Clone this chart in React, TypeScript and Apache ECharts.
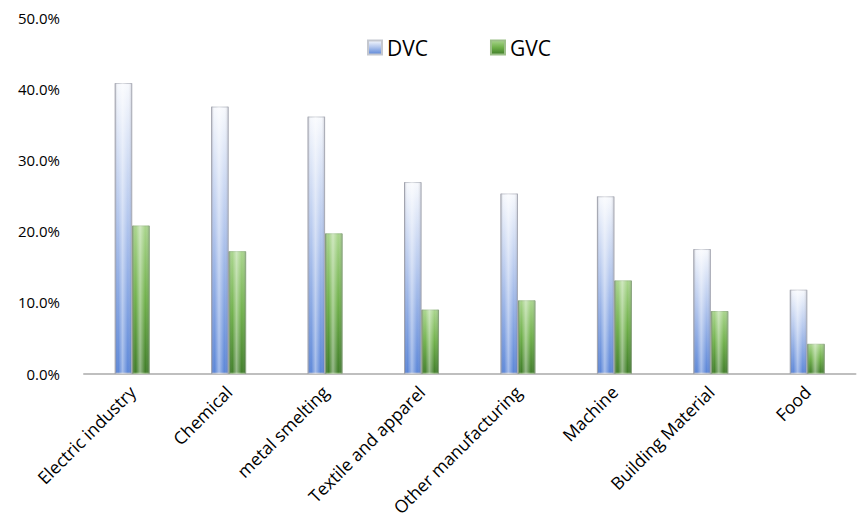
import React, { useEffect, useRef } from "react";
import * as echarts from "echarts";

// Share of value-chain participation by industry
const categories = [
  "Electric industry",
  "Chemical",
  "metal smelting",
  "Textile and apparel",
  "Other manufacturing",
  "Machine",
  "Building Material",
  "Food",
];
const dvcValues = [40.8, 37.5, 36.1, 26.9, 25.3, 24.9, 17.5, 11.8];
const gvcValues = [20.8, 17.2, 19.7, 9.0, 10.3, 13.1, 8.8, 4.2];
const yTicks = [0, 10, 20, 30, 40, 50];

const FONT = "'Open Sans', 'Noto Sans', sans-serif";

const dvcFill = new echarts.graphic.LinearGradient(0, 0, 0, 1, [
  { offset: 0, color: "#f7f9fd" },
  { offset: 0.45, color: "#b5c8ee" },
  { offset: 1, color: "#5b86d8" },
]);
const gvcFill = new echarts.graphic.LinearGradient(0, 0, 0, 1, [
  { offset: 0, color: "#a9d58c" },
  { offset: 0.5, color: "#6fb04a" },
  { offset: 1, color: "#3f7d28" },
]);
// Cylinder shading laid over each bar
const shade = new echarts.graphic.LinearGradient(1, 0, 0, 0, [
  { offset: 0, color: "rgba(60,60,80,0.28)" },
  { offset: 0.25, color: "rgba(255,255,255,0.0)" },
  { offset: 0.55, color: "rgba(255,255,255,0.45)" },
  { offset: 0.8, color: "rgba(255,255,255,0.0)" },
  { offset: 1, color: "rgba(40,40,60,0.32)" },
]);

export default function App() {
  const ref = useRef<HTMLDivElement>(null);

  useEffect(() => {
    if (!ref.current) return;
    const chart = echarts.init(ref.current, null, { renderer: "svg" });
    const barWidth = 17.5;
    chart.setOption({
      animation: false,
      backgroundColor: "#ffffff",
      grid: { left: 84, right: 3.5, top: 17.5, bottom: 144 },
      legend: {
        data: ["DVC", "GVC"],
        left: 362,
        top: 32,
        itemWidth: 14,
        itemHeight: 14,
        itemGap: 62,
        textStyle: { fontFamily: FONT, fontSize: 21, color: "#000" },
        icon: "rect",
      },
      xAxis: [
        {
          type: "category",
          data: categories,
          axisLine: { lineStyle: { color: "#bfbfbf", width: 2 } },
          axisTick: { show: false },
          axisLabel: {
            rotate: 45,
            margin: 15,
            interval: 0,
            fontFamily: FONT,
            fontSize: 17.5,
            color: "#000",
          },
        },
        {
          type: "category",
          data: categories,
          show: false,
        },
      ],
      yAxis: {
        type: "value",
        min: yTicks[0],
        max: yTicks[yTicks.length - 1],
        interval: 10,
        splitLine: { show: false },
        axisLine: { show: false },
        axisTick: { show: false },
        axisLabel: {
          margin: 24,
          fontFamily: FONT,
          fontSize: 15,
          color: "#000",
          formatter: (v: number) => v.toFixed(1) + "%",
        },
      },
      series: [
        {
          name: "DVC",
          type: "bar",
          data: dvcValues,
          barWidth,
          barGap: "0%",
          itemStyle: { color: dvcFill, borderColor: "#c4c7cf", borderWidth: 1 },
        },
        {
          name: "GVC",
          type: "bar",
          data: gvcValues,
          barWidth,
          barGap: "0%",
          itemStyle: { color: gvcFill, borderColor: "#9cbf88", borderWidth: 1 },
        },
        {
          name: "dvc-shade",
          type: "bar",
          xAxisIndex: 1,
          data: dvcValues,
          barWidth,
          barGap: "0%",
          silent: true,
          itemStyle: { color: shade },
        },
        {
          name: "gvc-shade",
          type: "bar",
          xAxisIndex: 1,
          data: gvcValues,
          barWidth,
          barGap: "0%",
          silent: true,
          itemStyle: { color: shade },
        },
      ],
    });
    return () => chart.dispose();
  }, []);

  return <div ref={ref} style={{ width: 859, height: 519, position: "absolute", left: 0, top: 0 }} />;
}
